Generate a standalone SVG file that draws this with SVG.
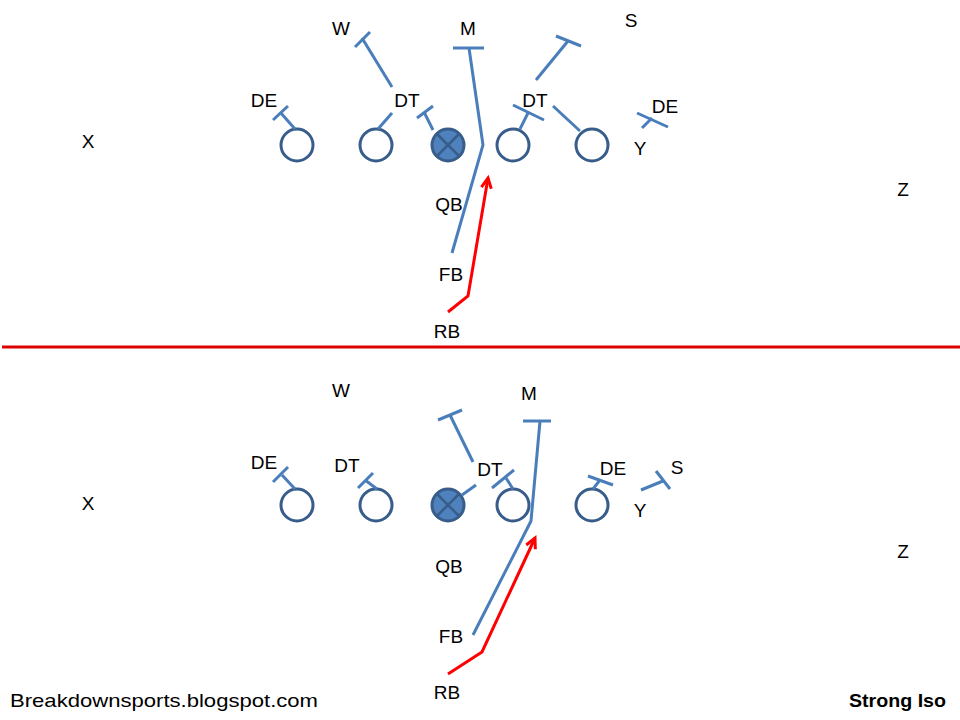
<svg xmlns="http://www.w3.org/2000/svg" width="960" height="720" viewBox="0 0 960 720">
<defs>
<style>
text{font-family:"Liberation Sans",Arial,sans-serif;font-size:19px;fill:#000;text-anchor:middle}
.blk{stroke:#4a7ebb;stroke-width:3;fill:none;stroke-linecap:butt}
.pl{fill:#fff;stroke:#385d8a;stroke-width:3}
.c{fill:#4f81bd;stroke:#385d8a;stroke-width:3}
.cx{stroke:#385d8a;stroke-width:2.5}
.run{stroke:#f00;stroke-width:3;fill:none;stroke-linejoin:miter}
.lim{stroke:#dd0000;stroke-width:3}
</style>
<marker id="ah" markerUnits="userSpaceOnUse" markerWidth="16" markerHeight="16" refX="11" refY="6" orient="auto" viewBox="0 0 16 12">
<path d="M1,1 L11,6 L1,11" fill="none" stroke="#f00" stroke-width="3"/>
</marker>
</defs>
<rect width="960" height="720" fill="#fff"/>

<g id="top">
  <g id="t-ol1"><circle class="pl" cx="297" cy="145" r="16"/></g>
  <g id="t-ol2"><circle class="pl" cx="376" cy="145" r="16"/></g>
  <g id="t-c"><circle class="c" cx="448" cy="145" r="16"/><line class="cx" x1="437" y1="134" x2="459" y2="156"/><line class="cx" x1="459" y1="134" x2="437" y2="156"/></g>
  <g id="t-ol4"><circle class="pl" cx="513" cy="145" r="16"/></g>
  <g id="t-ol5"><circle class="pl" cx="592" cy="145" r="16"/></g>
  <g id="t-labels">
    <text x="341" y="35">W</text>
    <text x="468" y="35">M</text>
    <text x="631" y="27">S</text>
    <text x="264" y="107">DE</text>
    <text x="407" y="107">DT</text>
    <text x="535" y="107">DT</text>
    <text x="665" y="113">DE</text>
    <text x="640" y="155">Y</text>
    <text x="88" y="148">X</text>
    <text x="903" y="196">Z</text>
    <text x="449" y="211">QB</text>
    <text x="451" y="281">FB</text>
    <text x="447" y="338">RB</text>
  </g>
</g>

<g id="bottom">
  <g id="b-ol1"><circle class="pl" cx="297" cy="505" r="16"/></g>
  <g id="b-ol2"><circle class="pl" cx="376" cy="505" r="16"/></g>
  <g id="b-c"><circle class="c" cx="448" cy="505" r="16"/><line class="cx" x1="437" y1="494" x2="459" y2="516"/><line class="cx" x1="459" y1="494" x2="437" y2="516"/></g>
  <g id="b-ol4"><circle class="pl" cx="513" cy="505" r="16"/></g>
  <g id="b-ol5"><circle class="pl" cx="592" cy="505" r="16"/></g>
  <g id="b-labels">
    <text x="341" y="397">W</text>
    <text x="529" y="400">M</text>
    <text x="264" y="469">DE</text>
    <text x="347" y="472">DT</text>
    <text x="490" y="476">DT</text>
    <text x="613" y="475">DE</text>
    <text x="677" y="474">S</text>
    <text x="640" y="517">Y</text>
    <text x="88" y="510">X</text>
    <text x="903" y="558">Z</text>
    <text x="449" y="573">QB</text>
    <text x="451" y="643">FB</text>
    <text x="447" y="699">RB</text>
  </g>
</g>

<g id="connectors">
  <!-- top blocks -->
  <line class="blk" x1="295" y1="129" x2="280" y2="112"/>
  <line class="blk" x1="273" y1="120" x2="288" y2="106"/>
  <line class="blk" x1="378" y1="129" x2="392" y2="113"/>
  <line class="blk" x1="392" y1="87" x2="362" y2="38"/>
  <line class="blk" x1="355" y1="47" x2="370" y2="32"/>
  <line class="blk" x1="433" y1="130" x2="424" y2="112"/>
  <line class="blk" x1="417" y1="118" x2="433" y2="106"/>
  <line class="blk" x1="453" y1="48" x2="484" y2="48"/>
  <polyline class="blk" points="469,48 483,145 452,253"/>
  <line class="blk" x1="536" y1="80" x2="568" y2="41"/>
  <line class="blk" x1="556" y1="36" x2="581" y2="46"/>
  <line class="blk" x1="520" y1="129" x2="528" y2="113"/>
  <line class="blk" x1="513" y1="105" x2="544" y2="120"/>
  <line class="blk" x1="580" y1="131" x2="553" y2="106"/>
  <line class="blk" x1="642" y1="128" x2="652" y2="118"/>
  <line class="blk" x1="637" y1="113" x2="668" y2="127"/>
  <!-- bottom blocks -->
  <line class="blk" x1="295" y1="489" x2="282" y2="475"/>
  <line class="blk" x1="273" y1="482" x2="288" y2="467"/>
  <line class="blk" x1="377" y1="489" x2="365" y2="480"/>
  <line class="blk" x1="358" y1="488" x2="373" y2="473"/>
  <line class="blk" x1="462" y1="495" x2="476" y2="485"/>
  <line class="blk" x1="473" y1="462" x2="450" y2="415"/>
  <line class="blk" x1="438" y1="420" x2="462" y2="410"/>
  <line class="blk" x1="513" y1="489" x2="506" y2="478"/>
  <line class="blk" x1="492" y1="488" x2="514" y2="470"/>
  <line class="blk" x1="523" y1="421" x2="551" y2="421"/>
  <polyline class="blk" points="540,421 531,521 473,635"/>
  <line class="blk" x1="593" y1="489" x2="600" y2="480"/>
  <line class="blk" x1="588" y1="476" x2="613" y2="485"/>
  <line class="blk" x1="641" y1="490" x2="663" y2="481"/>
  <line class="blk" x1="656" y1="471" x2="670" y2="489"/>
  <!-- runs -->
  <polyline class="run" points="448,312 468,296 488,178" marker-end="url(#ah)"/>
  <polyline class="run" points="448,674 482,652 535,538" marker-end="url(#ah)"/>
  <!-- line of scrimmage divider -->
  <line class="lim" x1="2" y1="347" x2="960" y2="347"/>
</g>

<g id="footer">
  <text x="10" y="707" style="text-anchor:start;font-size:19px" textLength="308" lengthAdjust="spacingAndGlyphs">Breakdownsports.blogspot.com</text>
  <text x="946" y="707" style="text-anchor:end;font-size:19px;font-weight:bold" textLength="97" lengthAdjust="spacingAndGlyphs">Strong Iso</text>
</g>
</svg>
